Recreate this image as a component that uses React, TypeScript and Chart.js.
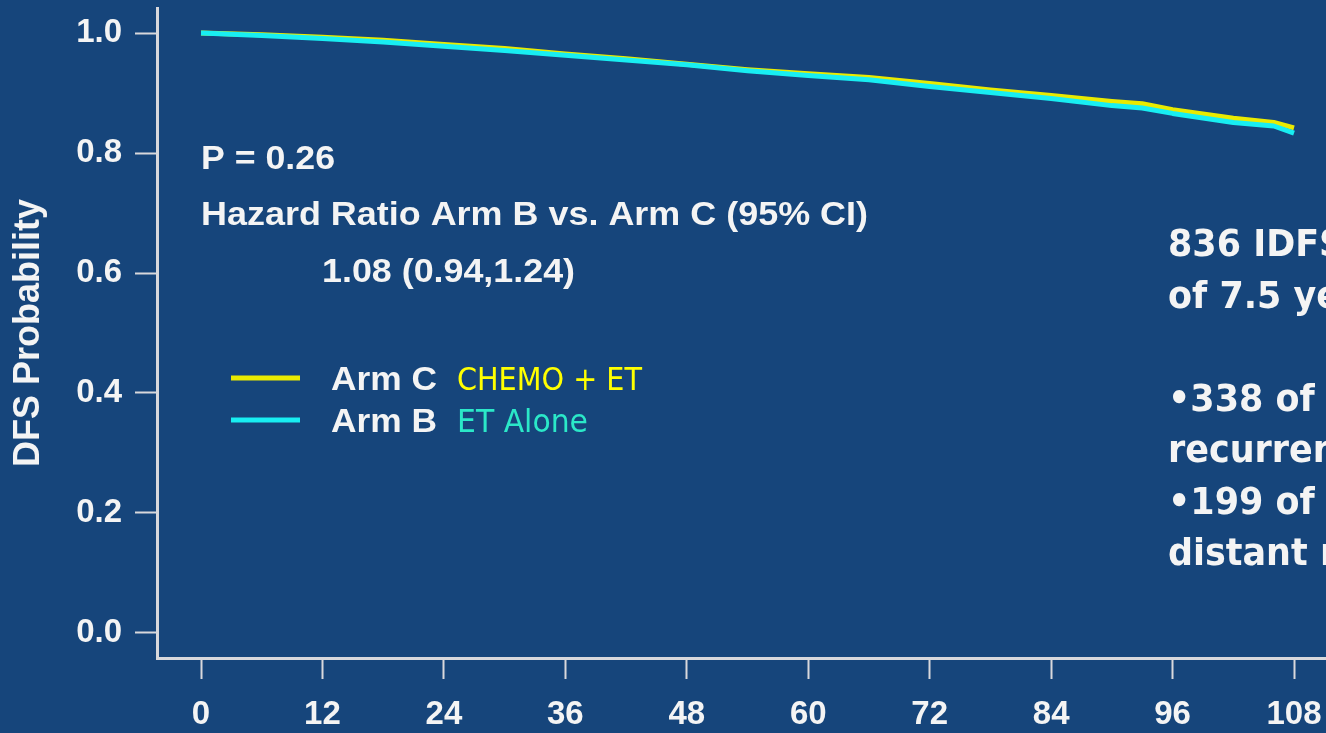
import { useEffect, useRef } from "react";
import { Chart, registerables } from "chart.js";

Chart.register(...registerables);

// ---- data ----
const months = [0, 6, 12, 18, 24, 30, 36, 42, 48, 54, 60, 66, 72, 78, 84, 90, 93, 96, 102, 106, 108];
const armCSurvival = [1.0, 0.997, 0.993, 0.988, 0.981, 0.974, 0.965, 0.957, 0.948, 0.939, 0.932, 0.926, 0.916, 0.905, 0.896, 0.886, 0.882, 0.872, 0.858, 0.851, 0.842];
const armBSurvival = [1.0, 0.996, 0.991, 0.985, 0.978, 0.971, 0.963, 0.955, 0.947, 0.937, 0.929, 0.922, 0.911, 0.901, 0.891, 0.879, 0.875, 0.866, 0.851, 0.845, 0.833];
const xTickValues = [0, 12, 24, 36, 48, 60, 72, 84, 96, 108];
const yTickValues = [0, 0.2, 0.4, 0.6, 0.8, 1.0];

const yAxisTitle = "DFS Probability";
const pValueText = "P = 0.26";
const hazardLabel = "Hazard Ratio Arm B vs. Arm C (95% CI)";
const hazardValue = "1.08 (0.94,1.24)";
const armNames = ["Arm C", "Arm B"];
const armDescriptions = ["CHEMO + ET", "ET Alone"];
const sideNotes = [
  "836 IDFS events at a median follow-up",
  "of 7.5 years",
  "",
  "•338 of 836 (40.4%) were distant",
  "recurrences",
  "•199 of 836 (23.8%) were first",
  "distant recurrences",
];

// ---- styles ----
const BG = "#16457B";
const AXIS = "#D8D8DC";
const TEXT = "#F4F4F4";
const YELLOW = "#EAEA00";
const CYAN = "#18EEF2";
const DESC_COLORS = ["#FFFF00", "#2BE8C8"];

function drawText(
  ctx: CanvasRenderingContext2D,
  text: string,
  x: number,
  y: number,
  font: string,
  color: string,
  opts: { width?: number; sx?: number } = {}
) {
  ctx.save();
  ctx.font = font;
  ctx.fillStyle = color;
  ctx.textAlign = "left";
  ctx.textBaseline = "alphabetic";
  const w = ctx.measureText(text).width;
  const sx = opts.width ? opts.width / w : opts.sx ?? 1;
  ctx.translate(x, y);
  ctx.scale(sx, 1);
  ctx.fillText(text, 0, 0);
  ctx.restore();
}

const annotationPlugin = {
  id: "annotations",
  afterDraw(chart: any) {
    const ctx: CanvasRenderingContext2D = chart.ctx;
    const arial = "bold 34px 'Liberation Sans', Arial, sans-serif";
    drawText(ctx, pValueText, 201, 169, arial, TEXT, { width: 134 });
    drawText(ctx, hazardLabel, 201, 225, arial, TEXT, { width: 667 });
    drawText(ctx, hazardValue, 322, 282, arial, TEXT, { width: 253 });

    // legend
    const legendColors = [YELLOW, CYAN];
    const legendY = [378, 420];
    const descWidths = [185, 131];
    for (let i = 0; i < 2; i++) {
      ctx.save();
      ctx.strokeStyle = legendColors[i];
      ctx.lineWidth = 5;
      ctx.beginPath();
      ctx.moveTo(231, legendY[i]);
      ctx.lineTo(300, legendY[i]);
      ctx.stroke();
      ctx.restore();
      drawText(ctx, armNames[i], 331, legendY[i] + 12, arial, TEXT, { width: 106 });
      drawText(ctx, armDescriptions[i], 457, legendY[i] + 12, "32px 'DejaVu Sans', sans-serif", DESC_COLORS[i], { width: descWidths[i] });
    }

    // side notes (clipped by the page edge)
    sideNotes.forEach((line, i) => {
      if (!line) return;
      drawText(ctx, line, 1168, 256 + i * 51.5, "bold 38px 'DejaVu Sans', sans-serif", TEXT, { sx: 0.92 });
    });
  },
};

export default function App() {
  const canvasRef = useRef<HTMLCanvasElement | null>(null);

  useEffect(() => {
    document.body.style.margin = "0";
    document.body.style.background = BG;
    const canvas = canvasRef.current;
    if (!canvas) return;

    const chart = new Chart(canvas, {
      type: "line",
      data: {
        datasets: [
          {
            label: armNames[1],
            data: months.map((m, i) => ({ x: m, y: armBSurvival[i] })),
            borderColor: CYAN,
            borderWidth: 5,
            pointRadius: 0,
            tension: 0,
            borderJoinStyle: "round",
            borderCapStyle: "butt",
          },
          {
            label: armNames[0],
            data: months.map((m, i) => ({ x: m, y: armCSurvival[i] })),
            borderColor: YELLOW,
            borderWidth: 5,
            pointRadius: 0,
            tension: 0,
            borderJoinStyle: "round",
            borderCapStyle: "butt",
          },
        ],
      },
      options: {
        animation: false,
        responsive: false,
        devicePixelRatio: 1,
        layout: { padding: { top: 8, left: 0, right: 0, bottom: 0 } },
        plugins: {
          legend: { display: false },
          tooltip: { enabled: false },
        },
        scales: {
          x: {
            type: "linear",
            min: -4.35,
            max: 111.16,
            afterBuildTicks: (scale: any) => {
              scale.ticks = xTickValues.map((v) => ({ value: v }));
            },
            afterFit: (scale: any) => {
              scale.height = 75;
              scale.paddingLeft = 0;
              scale.paddingRight = 0;
            },
            ticks: {
              color: TEXT,
              font: { family: "'Liberation Sans', Arial, sans-serif", size: 33, weight: "bold" },
              padding: 16,
              autoSkip: false,
              maxRotation: 0,
              callback: (v: any) => String(v),
            },
            grid: {
              display: true,
              drawOnChartArea: false,
              drawTicks: true,
              tickLength: 21,
              tickColor: AXIS,
              tickWidth: 2,
            },
            border: { display: true, color: AXIS, width: 3 },
          },
          y: {
            type: "linear",
            min: -0.0417,
            max: 1.0417,
            afterBuildTicks: (scale: any) => {
              scale.ticks = yTickValues.map((v) => ({ value: v }));
            },
            afterFit: (scale: any) => {
              scale.width = 157;
              scale.paddingTop = 0;
              scale.paddingBottom = 0;
            },
            ticks: {
              color: TEXT,
              font: { family: "'Liberation Sans', Arial, sans-serif", size: 33, weight: "bold" },
              padding: 13,
              callback: (v: any) => Number(v).toFixed(1),
            },
            grid: {
              display: true,
              drawOnChartArea: false,
              drawTicks: true,
              tickLength: 22,
              tickColor: AXIS,
              tickWidth: 2,
            },
            border: { display: true, color: AXIS, width: 3 },
            title: {
              display: true,
              text: yAxisTitle,
              color: TEXT,
              font: { family: "'Liberation Sans', Arial, sans-serif", size: 36, weight: "bold" },
              padding: { top: 7, bottom: 0 },
            },
          },
        },
      },
      plugins: [annotationPlugin],
    } as any);

    return () => chart.destroy();
  }, []);

  return (
    <div
      style={{
        position: "fixed",
        left: 0,
        top: 0,
        width: 1326,
        height: 733,
        background: BG,
        overflow: "hidden",
      }}
    >
      <canvas ref={canvasRef} width={1326} height={733} style={{ display: "block", width: 1326, height: 733 }} />
    </div>
  );
}
